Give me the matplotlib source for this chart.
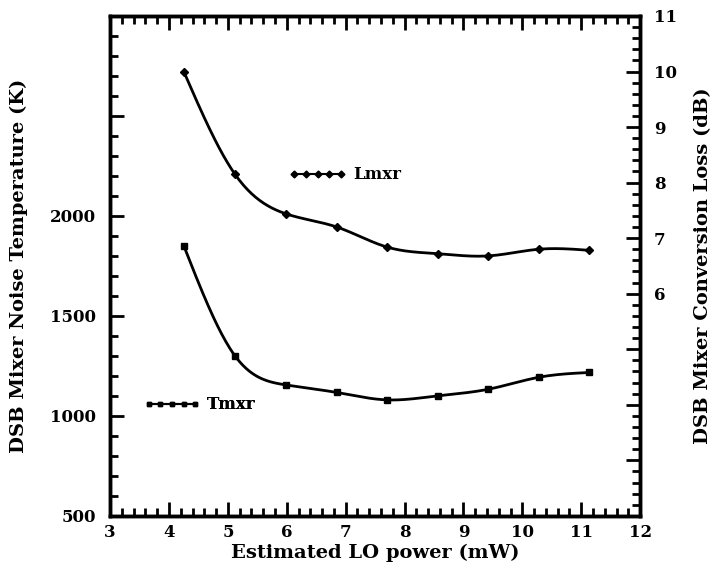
import numpy as np
import matplotlib
matplotlib.use('Agg')
import matplotlib.pyplot as plt
from matplotlib.ticker import MultipleLocator

# LO power (mW)
lo_power = [4.25, 5.12, 5.98, 6.85, 7.70, 8.56, 9.42, 10.28, 11.14]
# noise temperature (K), left axis
tmxr = [1851, 1300, 1155, 1117, 1080, 1100, 1133, 1193, 1217]
# conversion loss (dB), right axis
lmxr = [10.0, 8.15, 7.44, 7.20, 6.84, 6.72, 6.68, 6.80, 6.78]

left_ticks = [500, 1000, 1500, 2000, 2500, 3000]
left_labels = ['500', '1000', '1500', '2000', '', '']
right_ticks = list(range(2, 12))
right_labels = ['', '', '', '', '6', '7', '8', '9', '10', '11']


def natural_spline(x, y, n=300):
    x = np.asarray(x, float)
    y = np.asarray(y, float)
    k = len(x)
    h = np.diff(x)
    A = np.zeros((k, k))
    b = np.zeros(k)
    A[0, 0] = A[-1, -1] = 1
    for i in range(1, k - 1):
        A[i, i - 1] = h[i - 1]
        A[i, i] = 2 * (h[i - 1] + h[i])
        A[i, i + 1] = h[i]
        b[i] = 6 * ((y[i + 1] - y[i]) / h[i] - (y[i] - y[i - 1]) / h[i - 1])
    m = np.linalg.solve(A, b)
    xs = np.linspace(x[0], x[-1], n)
    idx = np.clip(np.searchsorted(x, xs) - 1, 0, k - 2)
    t = xs - x[idx]
    hi = h[idx]
    a = (m[idx + 1] - m[idx]) / (6 * hi)
    bb = m[idx] / 2
    c = (y[idx + 1] - y[idx]) / hi - hi * (2 * m[idx] + m[idx + 1]) / 6
    ys = y[idx] + c * t + bb * t ** 2 + a * t ** 3
    return xs, ys


plt.rcParams['font.family'] = 'DejaVu Serif'
plt.rcParams['font.weight'] = 'bold'

fig = plt.figure(figsize=(7.2, 5.7), dpi=100)
ax = fig.add_axes([0.153, 0.095, 0.736, 0.877])
ax2 = ax.twinx()

xs, ys = natural_spline(lo_power, tmxr)
ax.plot(xs, ys, color='black', lw=2)
ax.plot(lo_power, tmxr, 's', color='black', ms=5)

xs, ys = natural_spline(lo_power, lmxr)
ax2.plot(xs, ys, color='black', lw=2)
ax2.plot(lo_power, lmxr, 'D', color='black', ms=4.5)

ax.set_xlim(3, 12)
ax.set_ylim(500, 3000)
ax2.set_ylim(2, 11)

ax.xaxis.set_major_locator(MultipleLocator(1))
ax.xaxis.set_minor_locator(MultipleLocator(0.2))
ax.set_yticks(left_ticks)
ax.set_yticklabels(left_labels)
ax.yaxis.set_minor_locator(MultipleLocator(100))
ax2.set_yticks(right_ticks)
ax2.set_yticklabels(right_labels)
ax2.yaxis.set_minor_locator(MultipleLocator(0.2))

ax.tick_params(axis='both', which='both', direction='in', width=2,
               top=True, right=False, labelsize=12)
ax.tick_params(axis='both', which='major', length=10)
ax.tick_params(axis='both', which='minor', length=6)
ax.tick_params(axis='y', pad=10)
ax.tick_params(axis='x', pad=6)
ax2.tick_params(axis='y', which='both', direction='in', width=2,
                labelsize=12, pad=10)
ax2.tick_params(axis='y', which='major', length=10)
ax2.tick_params(axis='y', which='minor', length=6)

for a in (ax, ax2):
    for s in a.spines.values():
        s.set_linewidth(2.5)

ax.set_xlabel('Estimated LO power (mW)', fontsize=14, fontweight='bold',
              labelpad=2)
ax.set_ylabel('DSB Mixer Noise Temperature (K)', fontsize=14,
              fontweight='bold')
ax.yaxis.set_label_coords(-0.155, 0.5)
ax2.set_ylabel('DSB Mixer Conversion Loss (dB)', fontsize=14,
               fontweight='bold', labelpad=12)

# legend-like key markers
h1, = ax.plot([], [], 's-', color='black', ms=3.5, lw=1.5)
h2, = ax2.plot([], [], 'D-', color='black', ms=3.5, lw=1.5)
leg1 = ax.legend([h1], ['Tmxr'], loc='center left', bbox_to_anchor=(0.035, 0.222),
                 frameon=False, numpoints=5, handlelength=3.4,
                 fontsize=12, handletextpad=0.4)
ax.add_artist(leg1)
ax2.legend([h2], ['Lmxr'], loc='center left', bbox_to_anchor=(0.31, 0.682),
           frameon=False, numpoints=5, handlelength=3.4,
           fontsize=12, handletextpad=0.4)

fig.savefig('out.png', dpi=100)
